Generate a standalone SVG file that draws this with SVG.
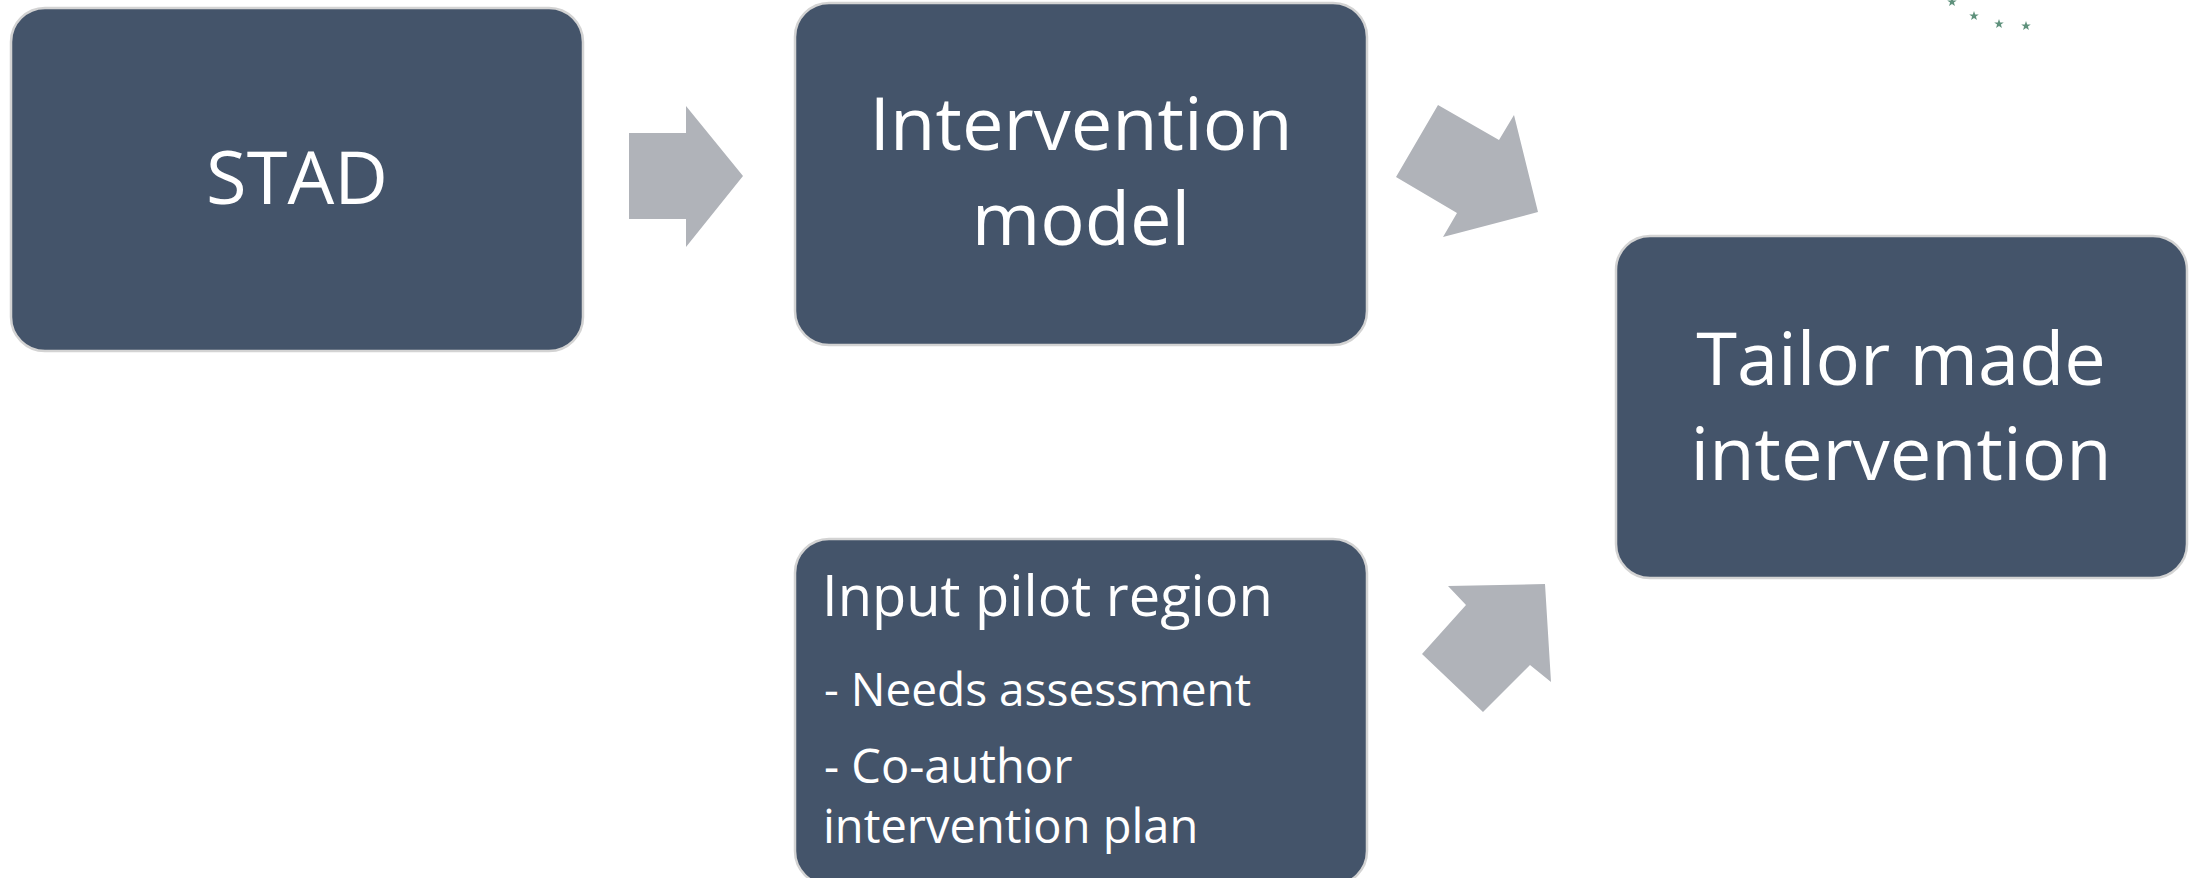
<svg xmlns="http://www.w3.org/2000/svg" xmlns:xlink="http://www.w3.org/1999/xlink" width="2191" height="878" viewBox="0 0 2191 878">
  <style>
    .box { fill: #44546a; stroke: #d3d3d3; stroke-width: 2.5; }
    .arrow { fill: #b0b3b9; }
    .big { font-family: "Open Sans", "Noto Sans", "Liberation Sans", sans-serif; font-size: 74px; fill: #ffffff; text-anchor: middle; }
    .list { font-family: "Open Sans", "Noto Sans", "Liberation Sans", sans-serif; fill: #ffffff; }
    .star { fill: #5f917c; }
  </style>
  <defs>
    <polygon id="starShape" points="0,-5 1.18,-1.62 4.76,-1.54 1.9,0.62 2.94,4.04 0,2 -2.94,4.04 -1.9,0.62 -4.76,-1.54 -1.18,-1.62"/>
  </defs>
  <rect x="0" y="0" width="2191" height="878" fill="#ffffff"/>

  <g id="decor-stars">
    <use xlink:href="#starShape" class="star" x="1952" y="2"/>
    <use xlink:href="#starShape" class="star" x="1974" y="16"/>
    <use xlink:href="#starShape" class="star" x="1999" y="24"/>
    <use xlink:href="#starShape" class="star" x="2026" y="26"/>
  </g>

  <g id="connectors">
    <polygon class="arrow" points="629,133 686,133 686,106 743,176 686,247 686,219 629,219"/>
    <polygon class="arrow" points="1438,105 1499,140 1514,115 1538,212 1443,237 1457,213 1396,177"/>
    <polygon class="arrow" points="1448,586 1545,584 1551,682 1530,665 1483,712 1422,654 1466,605"/>
  </g>

  <g id="node-stad">
    <rect class="box" x="11" y="8" width="572" height="343" rx="34" ry="34"/>
    <text class="big" x="297" y="204">STAD</text>
  </g>

  <g id="node-intervention-model">
    <rect class="box" x="795" y="3" width="572" height="342" rx="34" ry="34"/>
    <text class="big" x="1081" y="150">Intervention</text>
    <text class="big" x="1081" y="245">model</text>
  </g>

  <g id="node-tailor-made">
    <rect class="box" x="1616" y="236" width="571" height="342" rx="34" ry="34"/>
    <text class="big" x="1901" y="385">Tailor made</text>
    <text class="big" x="1901" y="480">intervention</text>
  </g>

  <g id="node-input-pilot">
    <rect class="box" x="795" y="539" width="572" height="346" rx="34" ry="34"/>
    <text class="list" x="822" y="616" font-size="56">Input pilot region</text>
    <text class="list" x="824" y="706" font-size="46">- Needs assessment</text>
    <text class="list" x="824" y="783" font-size="47">- Co-author</text>
    <text class="list" x="823" y="843" font-size="47">intervention plan</text>
  </g>
</svg>
